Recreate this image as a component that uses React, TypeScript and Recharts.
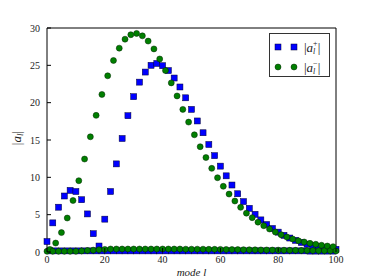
import React from 'react';
import { ScatterChart, Scatter, XAxis, YAxis, Legend } from 'recharts';

// mode numbers l
const modes = [
  0, 1, 2, 3, 4, 5, 6, 7, 8, 9,
  10, 11, 12, 13, 14, 15, 16, 17, 18, 19,
  20, 21, 22, 23, 24, 25, 26, 27, 28, 29,
  30, 31, 32, 33, 34, 35, 36, 37, 38, 39,
  40, 41, 42, 43, 44, 45, 46, 47, 48, 49,
  50, 51, 52, 53, 54, 55, 56, 57, 58, 59,
  60, 61, 62, 63, 64, 65, 66, 67, 68, 69,
  70, 71, 72, 73, 74, 75, 76, 77, 78, 79,
  80, 81, 82, 83, 84, 85, 86, 87, 88, 89,
  90, 91, 92, 93, 94, 95, 96, 97, 98, 99,
  100,
];

// |a_l^+|
const aPlus = [
  1.4, 0.15, 3.9, 0.15, 6.0, 0.15, 7.5, 0.15, 8.25, 0.15,
  8.1, 0.15, 7.0, 0.15, 5.1, 0.15, 2.45, 0.15, 0.8, 0.15,
  4.4, 0.15, 8.1, 0.15, 11.8, 0.15, 15.2, 0.15, 18.25, 0.15,
  20.8, 0.15, 22.75, 0.15, 24.1, 0.15, 25.0, 0.15, 25.25, 0.15,
  24.95, 0.15, 24.3, 0.15, 23.3, 0.15, 22.1, 0.15, 20.65, 0.15,
  19.1, 0.15, 17.55, 0.15, 15.97, 0.15, 14.4, 0.15, 12.9, 0.15,
  11.5, 0.15, 10.2, 0.15, 8.97, 0.15, 7.8, 0.15, 6.75, 0.15,
  5.85, 0.15, 5.05, 0.15, 4.3, 0.15, 3.68, 0.15, 3.15, 0.15,
  2.66, 0.15, 2.23, 0.15, 1.87, 0.15, 1.56, 0.15, 1.28, 0.15,
  1.05, 0.12, 0.85, 0.12, 0.7, 0.12, 0.56, 0.12, 0.45, 0.12,
  0.36,
];

// |a_l^-|
const aMinus = [
  0.1, 0.35, 0.1, 1.2, 0.1, 2.6, 0.1, 4.55, 0.1, 6.9,
  0.1, 9.55, 0.15, 12.45, 0.2, 15.43, 0.25, 18.3, 0.3, 21.1,
  0.35, 23.6, 0.4, 25.65, 0.4, 27.3, 0.4, 28.5, 0.4, 29.1,
  0.4, 29.27, 0.4, 28.95, 0.4, 28.25, 0.4, 27.2, 0.4, 25.85,
  0.4, 24.3, 0.4, 22.65, 0.4, 20.9, 0.4, 19.1, 0.38, 17.4,
  0.38, 15.7, 0.38, 14.1, 0.38, 12.65, 0.36, 11.2, 0.36, 9.95,
  0.35, 8.8, 0.34, 7.76, 0.33, 6.83, 0.32, 5.98, 0.31, 5.2,
  0.3, 4.6, 0.29, 4.0, 0.28, 3.52, 0.27, 3.08, 0.26, 2.68,
  0.25, 2.32, 0.24, 2.0, 0.23, 1.74, 0.22, 1.5, 0.21, 1.34,
  0.2, 1.16, 0.19, 1.03, 0.18, 0.9, 0.17, 0.8, 0.16, 0.71,
  0.15,
];

const xTicks = [0, 20, 40, 60, 80, 100];
const yTicks = [0, 5, 10, 15, 20, 25, 30];

const plusData = modes.map((l, i) => ({ l, a: aPlus[i] }));
const minusData = modes.map((l, i) => ({ l, a: aMinus[i] }));

const FONT = '"Liberation Serif", "DejaVu Serif", serif';
const BLUE = '#0000ff';
const GREEN = '#007f00';
const TICK = 4;

const Square = (p: any) => (
  <rect x={p.cx - 3} y={p.cy - 3} width={6} height={6} fill={BLUE} stroke="#000033" strokeWidth={0.5} />
);
const Dot = (p: any) => (
  <circle cx={p.cx} cy={p.cy} r={3} fill={GREEN} stroke="#002200" strokeWidth={0.5} />
);

const BottomTick = ({ x, y, payload }: any) => (
  <g>
    <line x1={x} y1={y} x2={x} y2={y - TICK} stroke="#000" />
    <text x={x} y={y + 11} textAnchor="middle" fontSize={10} fontFamily={FONT} fill="#222">
      {payload.value}
    </text>
  </g>
);
const TopTick = ({ x, y }: any) => <line x1={x} y1={y} x2={x} y2={y + TICK} stroke="#000" />;
const LeftTick = ({ x, y, payload }: any) => (
  <g>
    <line x1={x} y1={y} x2={x + TICK} y2={y} stroke="#000" />
    <text x={x - 7} y={y + 3.5} textAnchor="end" fontSize={10} fontFamily={FONT} fill="#222">
      {payload.value}
    </text>
  </g>
);
const RightTick = ({ x, y }: any) => <line x1={x} y1={y} x2={x - TICK} y2={y} stroke="#000" />;

const YLabel = ({ viewBox }: any) => {
  const cx = viewBox.x + 21;
  const cy = viewBox.y + viewBox.height / 2 - 2;
  return (
    <text x={cx} y={cy} transform={`rotate(-90 ${cx} ${cy})`} textAnchor="middle" fontSize={13} fontFamily={FONT} fill="#222">
      |<tspan fontStyle="italic">a</tspan>
      <tspan fontStyle="italic" fontSize={9} dy={2}>l</tspan>
      <tspan dy={-2}>|</tspan>
    </text>
  );
};

const XLabel = ({ viewBox }: any) => (
  <text x={viewBox.x + viewBox.width / 2} y={viewBox.y + 24} textAnchor="middle" fontSize={11} fontFamily={FONT} fontStyle="italic" fill="#222">
    mode l
  </text>
);

const LegendLabel = ({ sign }: { sign: string }) => (
  <span style={{ fontFamily: FONT, fontSize: 13, color: '#222', whiteSpace: 'nowrap', display: 'inline-flex', alignItems: 'center' }}>
    |<i>a</i>
    <span style={{ display: 'inline-flex', flexDirection: 'column', fontSize: 8, lineHeight: '8px' }}>
      <span>{sign}</span>
      <i>l</i>
    </span>
    |
  </span>
);

const renderLegend = () => {
  const rows = [
    { sign: '+', marker: <rect x={2} y={2} width={6} height={6} fill={BLUE} stroke="#000033" strokeWidth={0.5} /> },
    { sign: '\u2212', marker: <circle cx={5} cy={5} r={3} fill={GREEN} stroke="#002200" strokeWidth={0.5} /> },
  ];
  return (
    <div style={{ border: '1px solid #333', background: '#fff', width: 61, height: 44, boxSizing: 'border-box', padding: '3px 0 0 3px' }}>
      {rows.map((r) => (
        <div key={r.sign} style={{ display: 'flex', alignItems: 'center', height: 20 }}>
          <svg width={10} height={10}>{r.marker}</svg>
          <svg width={10} height={10} style={{ marginLeft: 6 }}>{r.marker}</svg>
          <span style={{ marginLeft: 5 }}>
            <LegendLabel sign={r.sign} />
          </span>
        </div>
      ))}
    </div>
  );
};

export default function App() {
  return (
    <div style={{ position: 'absolute', left: 0, top: 0, width: 374, height: 280, background: '#fff' }}>
      <ScatterChart width={374} height={280} margin={{ top: 0, right: 0, bottom: 0, left: 0 }}>
        <XAxis
          xAxisId="b"
          type="number"
          dataKey="l"
          domain={[0, 100]}
          ticks={xTicks}
          height={28}
          tickSize={0}
          tickMargin={0}
          tickLine={false}
          axisLine={{ stroke: '#000' }}
          tick={BottomTick}
          label={<XLabel />}
        />
        <XAxis
          xAxisId="t"
          orientation="top"
          type="number"
          dataKey="l"
          domain={[0, 100]}
          ticks={xTicks}
          height={28}
          tickSize={0}
          tickMargin={0}
          tickLine={false}
          axisLine={{ stroke: '#000' }}
          tick={TopTick}
        />
        <YAxis
          yAxisId="l"
          type="number"
          dataKey="a"
          domain={[0, 30]}
          ticks={yTicks}
          width={47}
          tickSize={0}
          tickMargin={0}
          tickLine={false}
          axisLine={{ stroke: '#000' }}
          tick={LeftTick}
          label={<YLabel />}
        />
        <YAxis
          yAxisId="r"
          orientation="right"
          type="number"
          dataKey="a"
          domain={[0, 30]}
          ticks={yTicks}
          width={38}
          tickSize={0}
          tickMargin={0}
          tickLine={false}
          axisLine={{ stroke: '#000' }}
          tick={RightTick}
        />
        <Legend
          layout="vertical"
          align="center"
          verticalAlign="middle"
          content={renderLegend}
          wrapperStyle={{ left: 269, top: 33, width: 61, height: 44 }}
        />
        <Scatter name="plus" data={plusData} xAxisId="b" yAxisId="l" shape={Square} isAnimationActive={false} />
        <Scatter name="minus" data={minusData} xAxisId="b" yAxisId="l" shape={Dot} isAnimationActive={false} />
      </ScatterChart>
    </div>
  );
}
